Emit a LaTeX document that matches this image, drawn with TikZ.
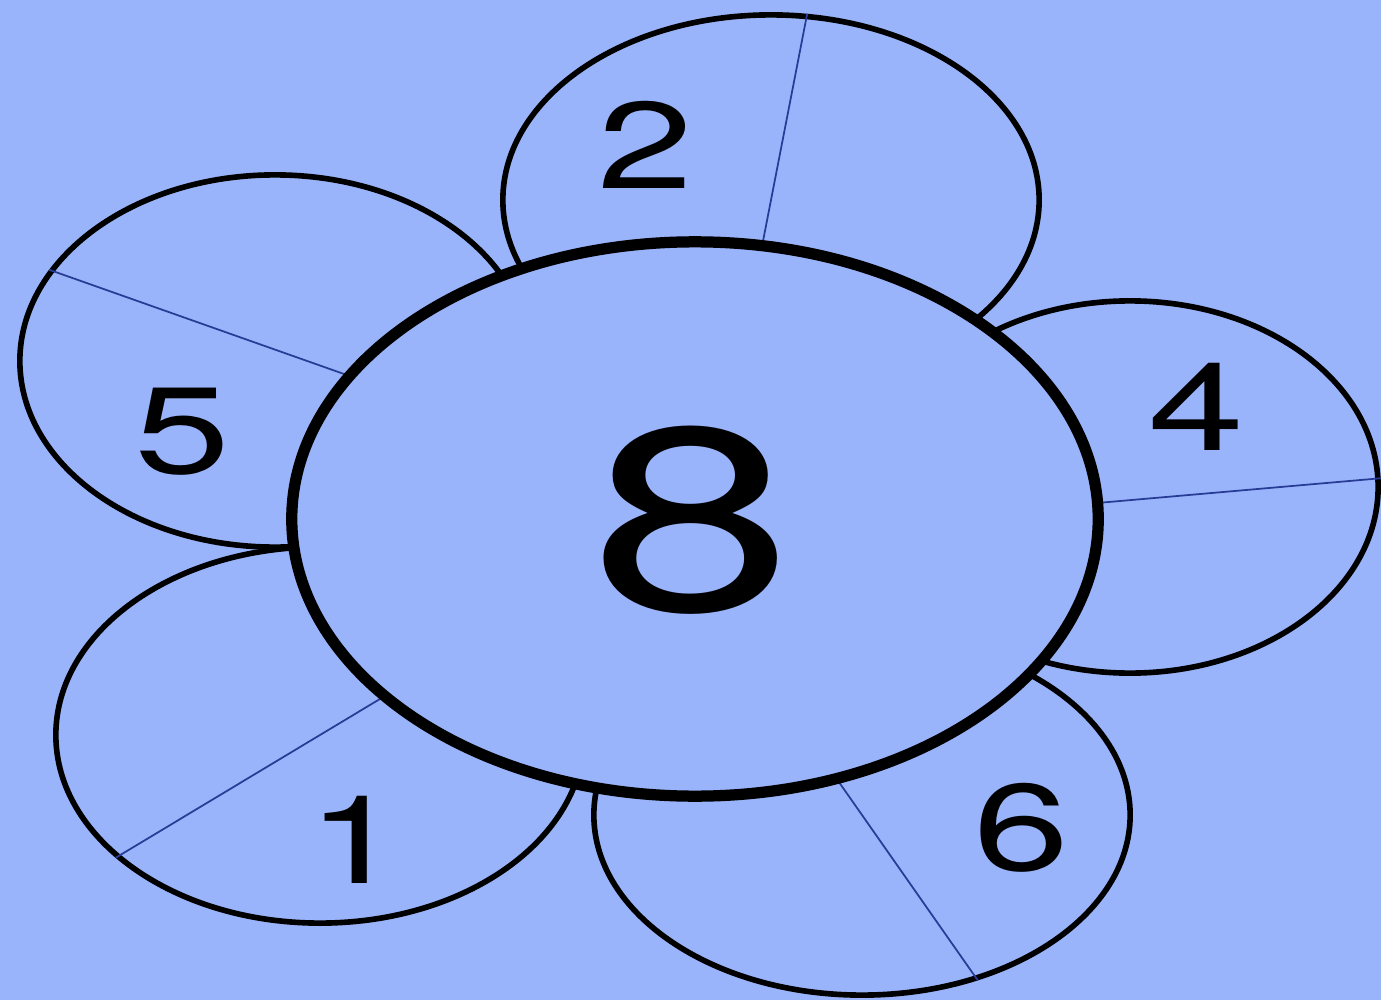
\documentclass[tikz,border=0pt]{standalone}
\usepackage{fontspec}
\setmainfont{TeX Gyre Heros}
\usetikzlibrary{shapes.geometric}

\definecolor{skyfill}{RGB}{153,180,250}
\definecolor{splitblue}{RGB}{40,60,150}
\newcommand{\stretchnum}[1]{\scalebox{1.4}[1]{#1}}

\begin{document}
\begin{tikzpicture}[
  x=0.01cm, y=-0.01cm,
  petal/.style={ellipse, draw=black, line width=1.6pt, fill=skyfill, inner sep=0pt},
  hub/.style={ellipse, draw=black, line width=3.2pt, fill=skyfill, inner sep=0pt},
  split/.style={draw=splitblue, line width=0.5pt},
  digit/.style={inner sep=0pt, font=\fontsize{35}{35}\selectfont},
  bigdigit/.style={inner sep=0pt, font=\fontsize{74}{74}\selectfont}
]
  \useasboundingbox (0,0) rectangle (1381,1000);
  \fill[skyfill] (0,0) rectangle (1381,1000);

  % petals
  \node[petal, minimum width=5.36cm, minimum height=3.70cm] (ptop)   at (771,200) {};
  \node[petal, minimum width=5.10cm, minimum height=3.72cm] (pupl)   at (275,361) {};
  \node[petal, minimum width=4.96cm, minimum height=3.72cm] (pright) at (1130,487) {};
  \node[petal, minimum width=5.28cm, minimum height=3.76cm] (plowl)  at (320,735) {};
  \node[petal, minimum width=5.36cm, minimum height=3.60cm] (pbot)   at (862,815) {};

  \draw[split] (ptop.79)    -- (ptop.259);
  \draw[split] (pupl.158)   -- (pupl.343);
  \draw[split] (pright.2)   -- (pright.188);
  \draw[split] (plowl.211)  -- (plowl.31);
  \draw[split] (pbot.305)   -- (pbot.125);

  % centre
  \node[hub, minimum width=8.06cm, minimum height=5.54cm] (centre) at (695,519) {};
  \node[bigdigit] (n8) at (692,520) {\stretchnum{8}};

  \node[digit] (n2) at (645,145)  {\stretchnum{2}};
  \node[digit] (n5) at (182,432)  {\stretchnum{5}};
  \node[digit] (n4) at (1196,407) {\stretchnum{4}};
  \node[digit] (n1) at (355,840)  {\stretchnum{1}};
  \node[digit] (n6) at (1021,828) {\stretchnum{6}};
\end{tikzpicture}
\end{document}
